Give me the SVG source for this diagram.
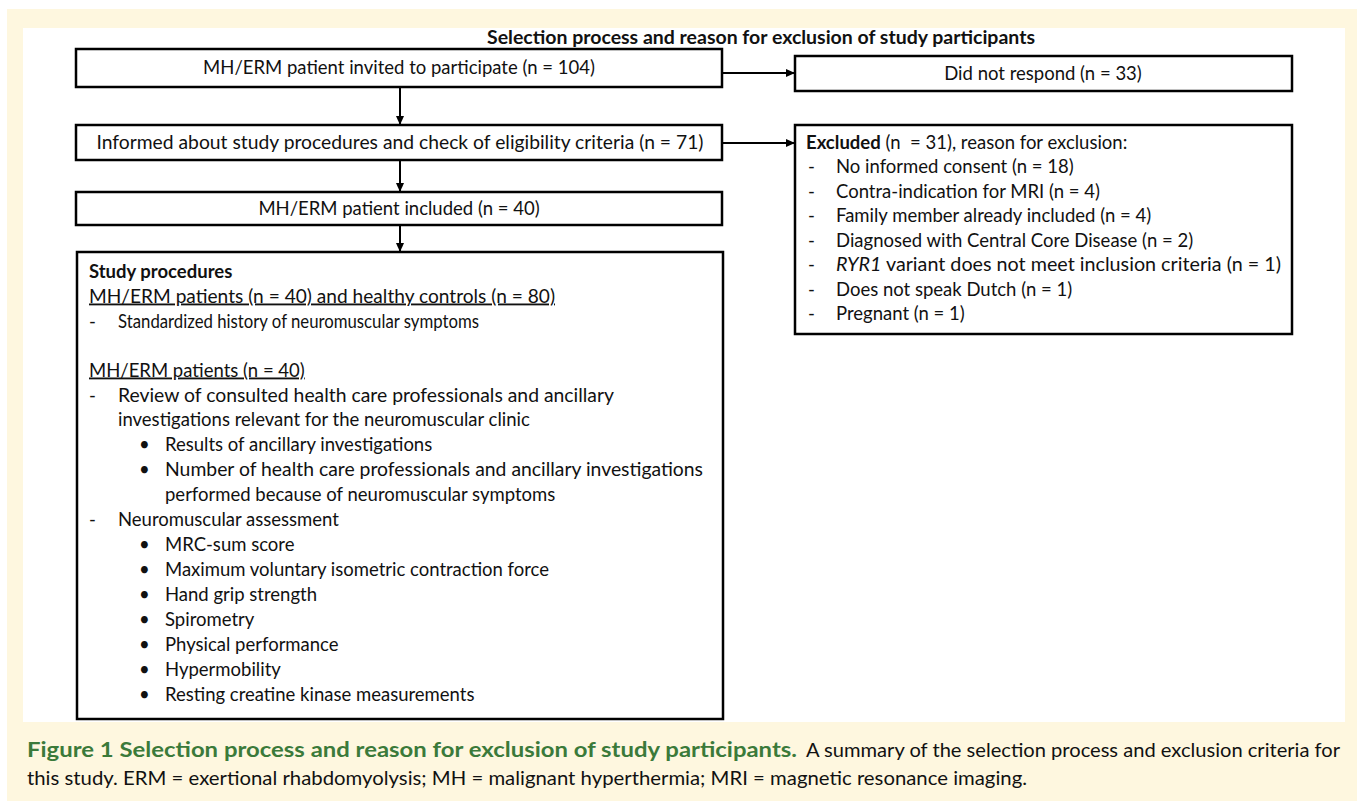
<svg xmlns="http://www.w3.org/2000/svg" width="1357" height="801" viewBox="0 0 1357 801">
  <defs>
    <marker id="arr" markerUnits="userSpaceOnUse" markerWidth="10" markerHeight="10" refX="9" refY="5" orient="auto">
      <path d="M0,1 L9,5 L0,9 Z" fill="#000"/>
    </marker>
    <style>
      .box { fill: #fff; stroke: #000; stroke-width: 2.5; }
      .t { font-family: Lato, "Liberation Sans", sans-serif; font-size: 18.5px; fill: #111; }
      .c { text-anchor: middle; }
      .b { font-weight: bold; }
      .u { text-decoration: underline; }
      .conn { stroke: #000; stroke-width: 2; fill: none; marker-end: url(#arr); }
      .cap { font-family: Lato, "Liberation Sans", sans-serif; font-size: 20px; }
    </style>
  </defs>

  <rect x="0" y="0" width="1357" height="801" fill="#fff"/>
  <rect x="7" y="9" width="1350" height="792" fill="#fef7df"/>
  <rect x="23" y="28" width="1322" height="694" fill="#fff"/>

  <text class="t b c" x="761" y="44" textLength="548" lengthAdjust="spacingAndGlyphs">Selection process and reason for exclusion of study participants</text>

  <g id="node-invited">
    <rect class="box" x="76" y="49" width="646" height="38"/>
    <text class="t c" x="399" y="74">MH/ERM patient invited to participate (n = 104)</text>
  </g>

  <g id="node-noresponse">
    <rect class="box" x="795" y="56" width="497" height="35"/>
    <text class="t c" x="1043" y="80">Did not respond (n = 33)</text>
  </g>

  <g id="node-informed">
    <rect class="box" x="76" y="125" width="646" height="35"/>
    <text class="t c" x="400" y="149" textLength="607" lengthAdjust="spacingAndGlyphs">Informed about study procedures and check of eligibility criteria (n = 71)</text>
  </g>

  <g id="node-excluded">
    <rect class="box" x="795" y="125" width="497" height="209"/>
    <text class="t" x="806" y="149" xml:space="preserve"><tspan class="b">Excluded</tspan> (n  = 31), reason for exclusion:</text>
    <text class="t" x="808" y="173">-</text><text class="t" x="836" y="173">No informed consent (n = 18)</text>
    <text class="t" x="808" y="197.5">-</text><text class="t" x="836" y="197.5">Contra-indication for MRI (n = 4)</text>
    <text class="t" x="808" y="222">-</text><text class="t" x="836" y="222">Family member already included (n = 4)</text>
    <text class="t" x="808" y="246.5">-</text><text class="t" x="836" y="246.5">Diagnosed with Central Core Disease (n = 2)</text>
    <text class="t" x="808" y="271">-</text><text class="t" x="836" y="271" textLength="445" lengthAdjust="spacingAndGlyphs"><tspan font-style="italic">RYR1</tspan> variant does not meet inclusion criteria (n = 1)</text>
    <text class="t" x="808" y="295.5">-</text><text class="t" x="836" y="295.5">Does not speak Dutch (n = 1)</text>
    <text class="t" x="808" y="320">-</text><text class="t" x="836" y="320">Pregnant (n = 1)</text>
  </g>

  <g id="node-included">
    <rect class="box" x="76" y="192" width="646" height="33"/>
    <text class="t c" x="399" y="214.5">MH/ERM patient included (n = 40)</text>
  </g>

  <g id="node-procedures">
    <rect class="box" x="77" y="252" width="646" height="467"/>
    <text class="t b" x="89" y="278">Study procedures</text>
    <text class="t u" x="89" y="302.5" textLength="466" lengthAdjust="spacingAndGlyphs">MH/ERM patients (n = 40) and healthy controls (n = 80)</text>
    <text class="t" x="89" y="327.5">-</text><text class="t" x="118" y="327.5" textLength="361" lengthAdjust="spacingAndGlyphs">Standardized history of neuromuscular symptoms</text>
    <text class="t u" x="89" y="376.5">MH/ERM patients (n = 40)</text>
    <text class="t" x="89" y="401.5">-</text><text class="t" x="118" y="401.5" textLength="496" lengthAdjust="spacingAndGlyphs">Review of consulted health care professionals and ancillary</text>
    <text class="t" x="118" y="425.5">investigations relevant for the neuromuscular clinic</text>
    <text class="t" x="139" y="450.5">•</text><text class="t" x="165" y="450.5">Results of ancillary investigations</text>
    <text class="t" x="139" y="475.5">•</text><text class="t" x="165" y="475.5" textLength="538" lengthAdjust="spacingAndGlyphs">Number of health care professionals and ancillary investigations</text>
    <text class="t" x="165" y="500.5">performed because of neuromuscular symptoms</text>
    <text class="t" x="89" y="525.5">-</text><text class="t" x="118" y="525.5">Neuromuscular assessment</text>
    <text class="t" x="139" y="550.5">•</text><text class="t" x="165" y="550.5">MRC-sum score</text>
    <text class="t" x="139" y="575.5">•</text><text class="t" x="165" y="575.5">Maximum voluntary isometric contraction force</text>
    <text class="t" x="139" y="600.5">•</text><text class="t" x="165" y="600.5">Hand grip strength</text>
    <text class="t" x="139" y="625.5">•</text><text class="t" x="165" y="625.5">Spirometry</text>
    <text class="t" x="139" y="650.5">•</text><text class="t" x="165" y="650.5">Physical performance</text>
    <text class="t" x="139" y="675.5">•</text><text class="t" x="165" y="675.5">Hypermobility</text>
    <text class="t" x="139" y="700.5">•</text><text class="t" x="165" y="700.5">Resting creatine kinase measurements</text>
  </g>

  <g id="connectors">
    <line class="conn" x1="722" y1="73" x2="795" y2="73"/>
    <line class="conn" x1="722" y1="143" x2="795" y2="143"/>
    <line class="conn" x1="400" y1="87" x2="400" y2="125"/>
    <line class="conn" x1="400" y1="160" x2="400" y2="192"/>
    <line class="conn" x1="400" y1="225" x2="400" y2="252"/>
  </g>

  <g id="caption">
    <text class="cap" x="27" y="757" font-weight="bold" fill="#3b7a3a" font-size="21" textLength="770" lengthAdjust="spacingAndGlyphs">Figure 1 Selection process and reason for exclusion of study participants.</text>
    <text class="cap" x="806" y="757" fill="#111" textLength="534" lengthAdjust="spacingAndGlyphs">A summary of the selection process and exclusion criteria for</text>
    <text class="cap" x="27" y="785" fill="#111" textLength="1000" lengthAdjust="spacingAndGlyphs">this study. ERM = exertional rhabdomyolysis; MH = malignant hyperthermia; MRI = magnetic resonance imaging.</text>
  </g>
</svg>
